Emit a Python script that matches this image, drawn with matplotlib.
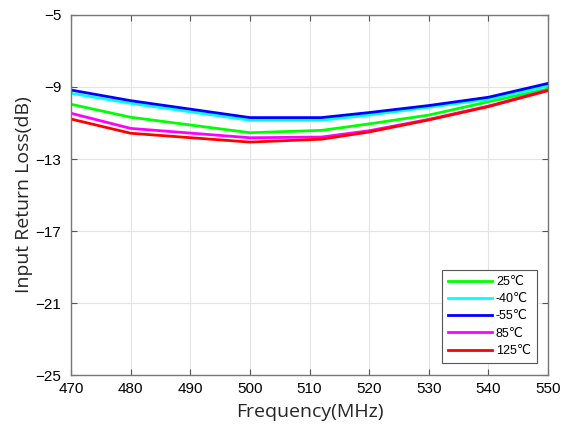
import numpy as np
import matplotlib
matplotlib.use('Agg')
import matplotlib.pyplot as plt

# frequency points (MHz)
freq = [470, 480, 500, 512, 520, 530, 540, 550]

# return loss (dB) per temperature
rl_25 = [-9.96, -10.68, -11.54, -11.41, -11.05, -10.56, -9.82, -9.11]
rl_m40 = [-9.35, -9.91, -10.85, -10.85, -10.56, -10.13, -9.68, -8.94]
rl_m55 = [-9.17, -9.76, -10.70, -10.70, -10.42, -10.03, -9.57, -8.80]
rl_85 = [-10.46, -11.30, -11.82, -11.78, -11.43, -10.80, -10.06, -9.17]
rl_125 = [-10.78, -11.57, -12.06, -11.90, -11.50, -10.83, -10.09, -9.20]

labels = ['25℃', '-40℃', '-55℃', '85℃', '125℃']
colors = ['#00ff00', '#00ffff', '#0000ff', '#ff00ff', '#ff0000']

xticks = [470, 480, 490, 500, 510, 520, 530, 540, 550]
yticks = [-25, -21, -17, -13, -9, -5]

fig = plt.figure(figsize=(5.65, 4.26), dpi=100)
ax = fig.add_axes([0.1257, 0.1197, 0.8443, 0.8451])

for y, lab, c in zip([rl_25, rl_m40, rl_m55, rl_85, rl_125], labels, colors):
    ax.plot(freq, y, color=c, lw=2, label=lab)

ax.set_xlim(470, 550)
ax.set_ylim(-25, -5)
ax.set_xticks(xticks)
ax.set_yticks(yticks)
ax.grid(True, color='#e3e3e3', lw=0.8)
ax.set_axisbelow(True)
ax.tick_params(direction='in', top=True, right=True, length=4, color='#555555',
               labelsize=11)
ax.tick_params(axis='x', pad=5)
ax.tick_params(axis='y', pad=7)
for lbl in ax.get_xticklabels() + ax.get_yticklabels():
    lbl.set_family(['Liberation Sans', 'DejaVu Sans'])
for s in ax.spines.values():
    s.set_color('#777777')
    s.set_linewidth(1)

ax.set_xlabel('Frequency(MHz)', fontsize=14, family='Open Sans', color='#262626', labelpad=5)
ax.set_ylabel('Input Return Loss(dB)', fontsize=14, family='Open Sans', color='#262626', labelpad=2)

leg = ax.legend(loc='lower right', bbox_to_anchor=(0.977, 0.033),
                prop={'family': ['Liberation Sans', 'DejaVu Sans'], 'size': 9},
                fancybox=False, edgecolor='#555555', framealpha=1,
                handlelength=3.5, handletextpad=0.3, labelspacing=0.42,
                borderpad=0.5, borderaxespad=0)
leg.get_frame().set_linewidth(0.8)

fig.savefig('out.png', dpi=100)
